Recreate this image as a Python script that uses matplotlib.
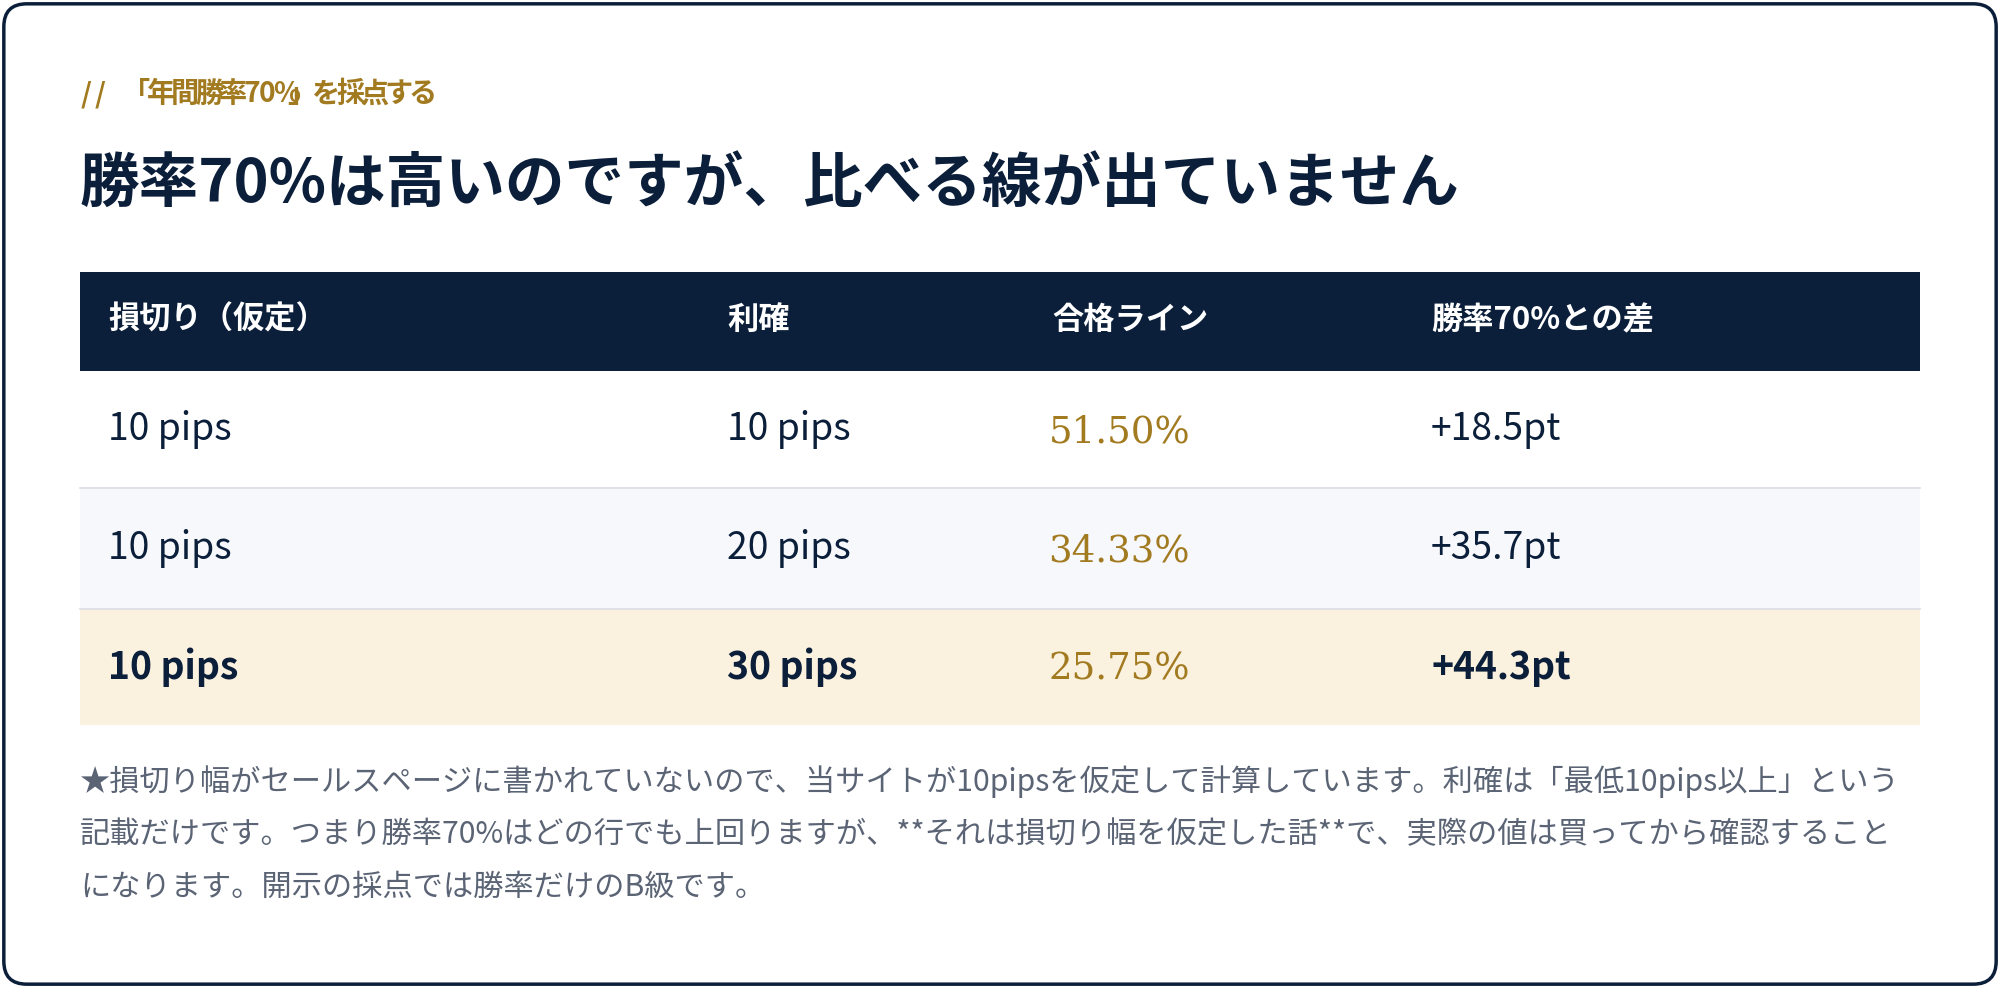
import matplotlib
matplotlib.use("Agg")
import matplotlib.pyplot as plt
from matplotlib.patches import FancyBboxPatch, Rectangle

stop_loss = ["10 pips", "10 pips", "10 pips"]
take_profit = ["10 pips", "20 pips", "30 pips"]
pass_line = ["51.50%", "34.33%", "25.75%"]
diff = ["+18.5pt", "+35.7pt", "+44.3pt"]
headers = ["損切り（仮定）", "利確", "合格ライン", "勝率70%との差"]
kicker = "//  「年間勝率70%」を採点する"
title = "勝率70%は高いのですが、比べる線が出ていません"
note = ["★損切り幅がセールスページに書かれていないので、当サイトが10pipsを仮定して計算しています。利確は「最低10pips以上」という",
        "記載だけです。つまり勝率70%はどの行でも上回りますが、**それは損切り幅を仮定した話**で、実際の値は買ってから確認すること",
        "になります。開示の採点では勝率だけのB級です。"]

NAVY = "#0b1f3a"; GOLD = "#a27a1f"; GREY = "#5b6475"
JP = ["Noto Sans CJK JP", "DejaVu Sans"]
K = 0.918  # display px -> pt

fig = plt.figure(figsize=(20, 9.88), dpi=100)
ax = fig.add_axes([0, 0, 1, 1])
ax.set_xlim(0, 1568); ax.set_ylim(775, 0); ax.axis("off")

ax.add_patch(FancyBboxPatch((3, 3), 1562, 769, boxstyle="round,pad=0,rounding_size=18",
                            fc="white", ec=NAVY, lw=2.5))
# kicker with letter spacing
kx = 63
for ch in kicker:
    t = ax.text(kx, 74, ch, color=GOLD, fontsize=17*K*1.3, fontweight="bold", family=JP, va="center")
    kx += (19.0 if ord(ch) > 255 else 11.5) if ch != " " else 5
ax.text(62, 145, title, color=NAVY, fontsize=38*K*1.23, fontweight="bold", family=JP, va="center")

ax.add_patch(Rectangle((63, 213), 1442, 78, fc=NAVY, ec="none"))
cols = [85, 570, 825, 1122]
for x, h in zip(cols, headers):
    ax.text(x, 251, h, color="white", fontsize=18*K*1.36, fontweight="bold", family=JP, va="center")

rows = [(291, 383, "white"), (383, 478, "#f7f8fb"), (478, 569, "#fbf1df")]
for i, (y0, y1, c) in enumerate(rows):
    ax.add_patch(Rectangle((63, y0), 1442, y1 - y0, fc=c, ec="none"))
    if i < 2:
        ax.plot([63, 1505], [y1, y1], color="#d9dde4", lw=1.2)
    yc = (y0 + y1) / 2
    w = "bold" if i == 2 else "normal"
    fs = 22*K*1.33
    ax.text(cols[0], yc, stop_loss[i], color=NAVY, fontsize=fs, fontweight=w, family=JP, va="center")
    ax.text(cols[1], yc, take_profit[i], color=NAVY, fontsize=fs, fontweight=w, family=JP, va="center")
    ax.text(cols[2] - 3, yc + 2, pass_line[i], color=GOLD, fontsize=27*K*1.08, family="DejaVu Serif", va="center")
    ax.text(cols[3], yc, diff[i], color=NAVY, fontsize=fs, fontweight=w, family=JP, va="center")

for y, line in zip([613, 655, 696], note):
    ax.text(63, y, line, color=GREY, fontsize=18.5*K*1.28, family=JP, va="center")

fig.savefig("out.png", dpi=100)
